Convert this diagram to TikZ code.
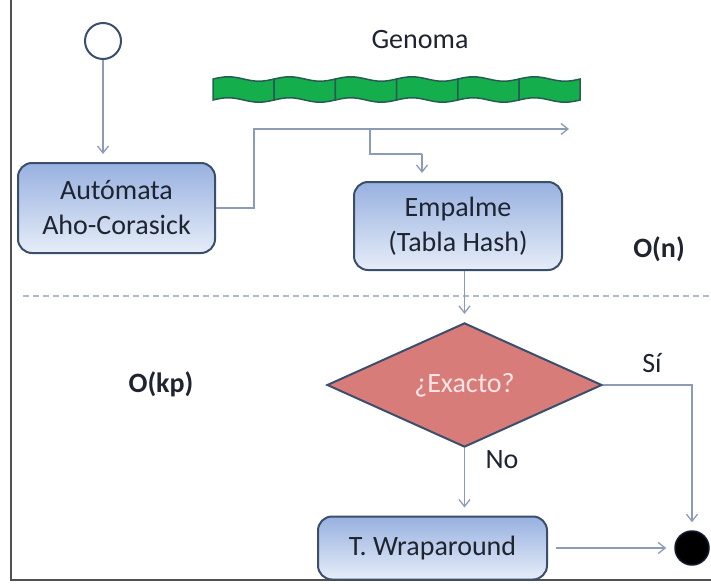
\documentclass[tikz,border=0pt]{standalone}
\usepackage{fontspec}
\setmainfont{Carlito}
\usetikzlibrary{shapes.geometric,arrows.meta}
\definecolor{boxline}{RGB}{59,78,107}
\definecolor{boxtop}{RGB}{152,177,224}
\definecolor{boxbottom}{RGB}{230,237,248}
\definecolor{flow}{RGB}{140,156,182}
\definecolor{salmon}{RGB}{216,124,122}
\definecolor{genfill}{RGB}{20,174,76}
\definecolor{genline}{RGB}{38,92,82}
\definecolor{sepline}{RGB}{176,188,204}
\definecolor{txt}{RGB}{30,36,48}
\definecolor{frame}{RGB}{80,80,80}
\begin{document}
\begin{tikzpicture}[x=1pt,y=-1pt,
		every node/.style={font=\fontsize{28}{35}\selectfont, text=txt},
		activity/.style={draw=boxline, line width=2pt, rounded corners=14pt, top color=boxtop, bottom color=boxbottom, align=center, inner sep=0pt},
		decision/.style={diamond, draw=boxline, line width=2pt, fill=salmon, text={rgb,255:red,250;green,228;blue,228}, inner sep=0pt, minimum width=275pt, minimum height=70pt},
		flowline/.style={draw=flow, line width=1.3pt},
		flowarrow/.style={flowline, -{Straight Barb[length=7pt,width=11pt]}, shorten >=8pt},
		bigO/.style={font=\fontsize{28}{35}\selectfont\bfseries}]
	\useasboundingbox (0,0) rectangle (711,583);
	% frame and separator
	\draw[frame, line width=2pt] (11,0) -- (11,580) -- (711,580);
	\draw[sepline, line width=2pt, dash pattern=on 6pt off 4pt] (23,296) -- (711,296);
	% genome strip
	\foreach \i in {0,...,5}
		\filldraw[fill=genfill, draw=genline, line width=1.5pt] ({213+61.2*\i},79) sin ++(15.3,-2.2) cos ++(15.3,2.2) sin ++(15.3,2.2) cos ++(15.3,-2.2) -- ++(0,21) sin ++(-15.3,2.2) cos ++(-15.3,-2.2) sin ++(-15.3,-2.2) cos ++(-15.3,2.2) -- cycle;
	\node (genoma) at (420,40) {Genoma};
	% states
	\node[circle, draw=boxline, line width=2pt, fill=white, minimum size=36pt, inner sep=0pt] (start) at (103,41) {};
	\node[activity, minimum width=197pt, minimum height=90pt] (aho) at (116.5,208) {Autómata\\Aho-Corasick};
	\node[activity, minimum width=208pt, minimum height=88pt] (emp) at (458,226) {Empalme\\(Tabla Hash)};
	\node[decision] (exacto) at (464.5,385) {¿Exacto?};
	\node[activity, minimum width=229pt, minimum height=63pt] (wrap) at (432.5,548) {T. Wraparound};
	\node[circle, fill=black, draw={rgb,255:red,15;green,25;blue,50}, line width=1.5pt, minimum size=34pt, inner sep=0pt] (end) at (692,548) {};
	% labels
	\node[bigO] (on) at (659,249) {O(n)};
	\node[bigO] (okp) at (161,384) {O(kp)};
	\node (si) at (652,363) {Sí};
	\node (no) at (502,460) {No};
	% connectors
	\coordinate (turn) at (254,129);
	\coordinate (branch) at (370,129);
	\coordinate (split) at (422,154);
	\coordinate (scanend) at (569,129);
	\draw[flowarrow] (start) -- (start |- aho.north);
	\draw[flowarrow, shorten >=0pt] (aho.east) -| (turn) -- (scanend);
	\draw[flowline] (branch) |- (split);
	\draw[flowarrow] (split) -- (split |- emp.north);
	\draw[flowarrow] (emp.south -| exacto.north) -- (exacto.north);
	\draw[flowarrow] (exacto.south) -- (exacto.south |- wrap.north);
	\draw[flowarrow] (exacto.east) -| (end.north);
	\draw[flowarrow, shorten <=8pt] (wrap.east) -- (end.west);
\end{tikzpicture}
\end{document}
